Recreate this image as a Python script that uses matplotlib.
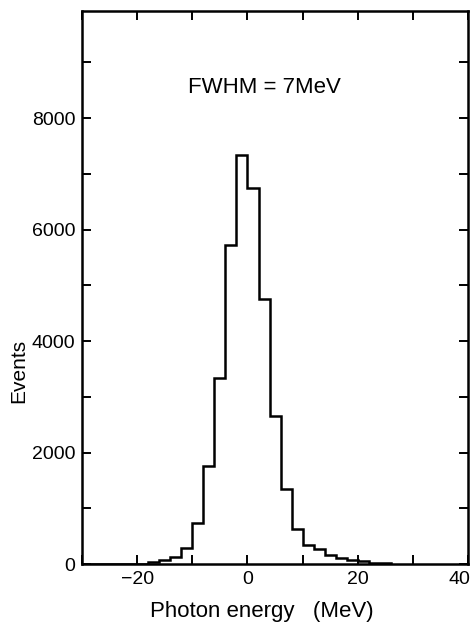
import numpy as np
import matplotlib
matplotlib.use("Agg")
import matplotlib.pyplot as plt
import matplotlib.transforms as mtransforms
from matplotlib.ticker import MultipleLocator

plt.rcParams['font.family'] = ['Liberation Sans', 'DejaVu Sans']

# bin edges (MeV), 2 MeV wide
bin_edges = np.arange(-30, 28, 2)
# events per bin
events = [0, 0, 0, 0, 0, 0,
          30, 75, 130, 280, 740, 1760, 3340, 5720, 7330,
          6750, 4750, 2660, 1340, 630, 340, 264, 160, 100,
          72, 50, 22, 12]

x_ticks = [-20, 0, 20, 40]
x_ticklabels = ["\u221220", "0", "20", "40"]

fig = plt.figure(figsize=(4.72, 6.22), dpi=100)
ax = fig.add_axes([0.174, 0.0932, 0.8175, 0.889])

ax.stairs(events, bin_edges, color="black", linewidth=1.8, baseline=0)

ax.set_xlim(-30, 40)
ax.set_ylim(0, 9920)

ax.set_xticks(x_ticks)
ax.set_xticklabels(x_ticklabels)
ax.xaxis.set_minor_locator(MultipleLocator(10))
ax.yaxis.set_major_locator(MultipleLocator(2000))
ax.yaxis.set_minor_locator(MultipleLocator(1000))

ax.tick_params(which="both", direction="in", top=True, right=True,
               length=6.5, width=1.4, labelsize=14)
ax.tick_params(axis="x", pad=5)
ax.tick_params(axis="y", pad=5)

# nudge the last x label left so it stays inside the figure
lbl = ax.get_xticklabels()[-1]
lbl.set_transform(lbl.get_transform() + mtransforms.ScaledTranslation(-9 / 100, 0, fig.dpi_scale_trans))

for s in ax.spines.values():
    s.set_linewidth(1.8)

ax.set_xlabel("Photon energy   (MeV)", fontsize=16)
ax.xaxis.set_label_coords(0.465, -0.066)
ax.set_ylabel("Events", fontsize=15)
ax.yaxis.set_label_coords(-0.139, 0.35)

ax.text(3.0, 8540, "FWHM = 7MeV", fontsize=16, ha="center", va="center")

fig.savefig("out.png", dpi=100)
